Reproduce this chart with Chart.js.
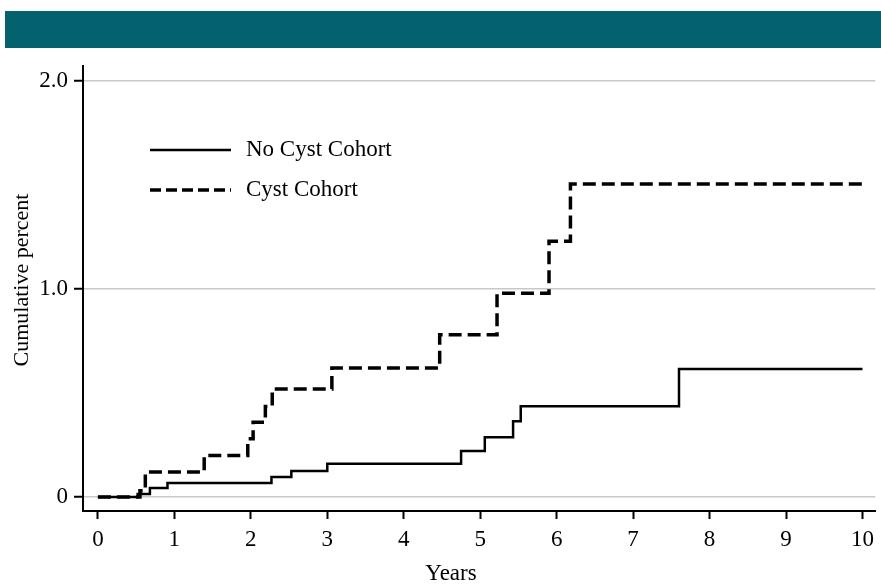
<!DOCTYPE html>
<html>
<head>
<meta charset="utf-8">
<script src="https://cdn.jsdelivr.net/npm/chart.js@4.4.0/dist/chart.umd.min.js"></script>
<style>
html,body{margin:0;padding:0;background:#fff;}
#wrap{position:relative;width:881px;height:585px;overflow:hidden;}
#band{position:absolute;left:5px;top:11px;width:876px;height:37px;background:#03626e;}
#c{position:absolute;left:0;top:0;width:881px;height:585px;}
</style>
</head>
<body>
<div id="wrap"><canvas id="c" width="881" height="585"></canvas><div id="band"></div></div>
<script>
// ---- data ----
const seriesLabels = ['No Cyst Cohort', 'Cyst Cohort'];
const noCystYears   = [0, 0.52, 0.68, 0.91, 2.27, 2.53, 3.00, 4.75, 5.06, 5.43, 5.53, 7.60, 10];
const noCystPercent = [0, 0.015, 0.043, 0.067, 0.096, 0.125, 0.160, 0.221, 0.288, 0.365, 0.437, 0.615, 0.615];
const cystYears     = [0, 0.55, 0.62, 1.39, 1.96, 2.03, 2.19, 2.28, 3.06, 4.47, 5.22, 5.90, 6.18, 10];
const cystPercent   = [0, 0.03, 0.12, 0.20, 0.28, 0.36, 0.435, 0.52, 0.62, 0.78, 0.98, 1.23, 1.505, 1.505];
const xTickValues = [0, 1, 2, 3, 4, 5, 6, 7, 8, 9, 10];
const xTickLabels = ['0', '1', '2', '3', '4', '5', '6', '7', '8', '9', '10'];
const yTickValues = [0, 1, 2];
const yTickLabels = ['0', '1.0', '2.0'];
const xTitle = 'Years';
const yTitle = 'Cumulative percent';

const FONT = '"Liberation Serif", "Times New Roman", serif';

const overlay = {
  id: 'overlay',
  afterDraw(chart) {
    const c = chart.ctx;
    c.save();
    c.fillStyle = '#000';
    c.font = '23px ' + FONT;
    c.textBaseline = 'middle';
    // legend
    const legendRows = [150, 190];
    chart.data.datasets.forEach((ds, i) => {
      const y = legendRows[i];
      c.save();
      c.strokeStyle = ds.borderColor;
      c.lineWidth = ds.borderWidth;
      c.setLineDash(ds.borderDash ? [11, 5] : []);
      c.beginPath();
      c.moveTo(150, y);
      c.lineTo(231, y);
      c.stroke();
      c.restore();
      c.textAlign = 'left';
      c.fillText(ds.label, 246, y);
    });
    // axis titles
    c.textAlign = 'center';
    c.fillText(xTitle, 451, 574);
    c.font = '22px ' + FONT;
    c.translate(22, 280);
    c.rotate(-Math.PI / 2);
    c.fillText(yTitle, 0, 0);
    c.restore();
  }
};

new Chart(document.getElementById('c').getContext('2d'), {
  type: 'line',
  data: {
    datasets: [
      {
        label: seriesLabels[0],
        data: noCystYears.map((x, i) => ({ x, y: noCystPercent[i] })),
        borderColor: '#000',
        borderWidth: 2.5,
        stepped: 'before',
        pointRadius: 0,
        fill: false
      },
      {
        label: seriesLabels[1],
        data: cystYears.map((x, i) => ({ x, y: cystPercent[i] })),
        borderColor: '#000',
        borderWidth: 3.5,
        borderDash: [13, 6],
        stepped: 'before',
        pointRadius: 0,
        fill: false
      }
    ]
  },
  options: {
    responsive: false,
    animation: false,
    layout: { padding: { top: 66, left: 0, right: 0, bottom: 0 } },
    plugins: { legend: { display: false }, tooltip: { enabled: false } },
    scales: {
      x: {
        type: 'linear',
        min: -0.195,
        max: 10.169,
        afterBuildTicks: s => { s.ticks = xTickValues.map(v => ({ value: v })); },
        afterFit: s => { s.height = 585 - 511; },
        ticks: {
          autoSkip: false, maxRotation: 0, padding: 7, color: '#000',
          font: { family: FONT, size: 23 },
          callback: v => xTickLabels[xTickValues.indexOf(v)]
        },
        grid: { drawOnChartArea: false, drawTicks: true, tickLength: 8, tickColor: '#000', tickWidth: 2 },
        border: { color: '#000', width: 2 }
      },
      y: {
        type: 'linear',
        min: -0.067,
        max: 2.072,
        afterBuildTicks: s => { s.ticks = yTickValues.map(v => ({ value: v })); },
        afterFit: s => { s.width = 83; },
        ticks: {
          padding: 6, color: '#000',
          font: { family: FONT, size: 23 },
          callback: v => yTickLabels[yTickValues.indexOf(v)]
        },
        grid: { color: '#c8c8c8', lineWidth: 1.5, drawTicks: true, tickLength: 9, tickColor: '#000', tickWidth: 2 },
        border: { color: '#000', width: 2 }
      }
    }
  },
  plugins: [overlay]
});
</script>
</body>
</html>
